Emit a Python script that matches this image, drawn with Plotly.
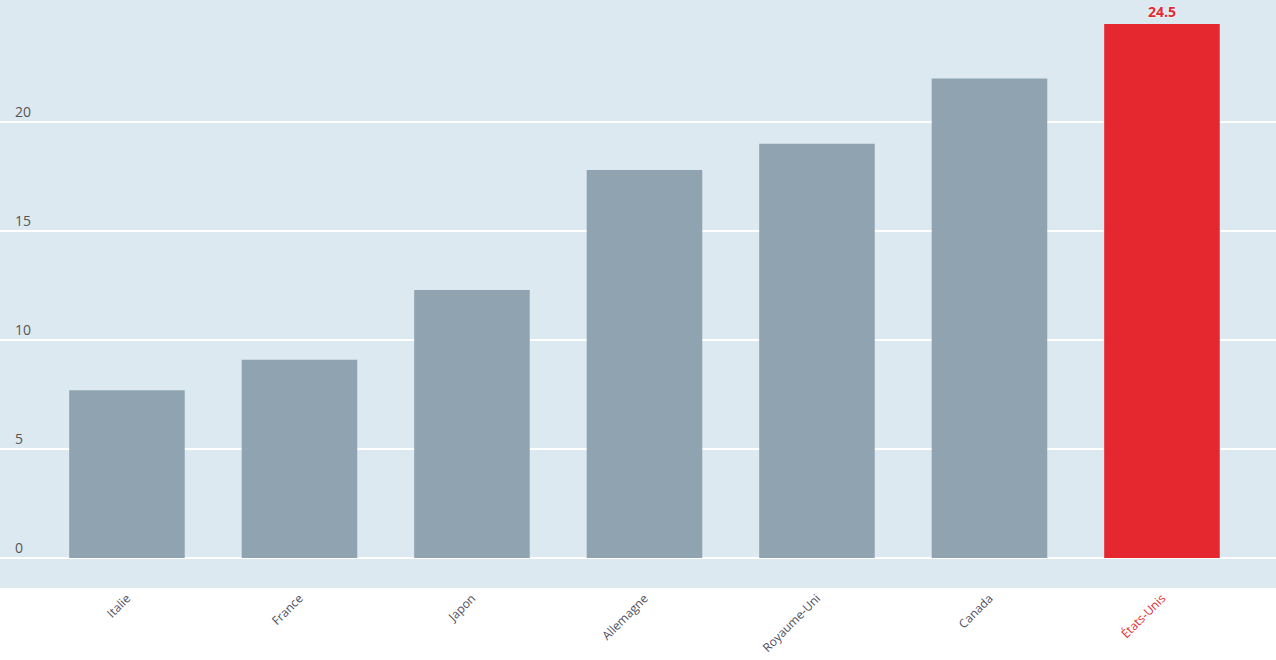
import plotly.graph_objects as go

countries = ["Italie", "France", "Japon", "Allemagne", "Royaume-Uni", "Canada", "États-Unis"]
values = [7.7, 9.1, 12.3, 17.8, 19.0, 22.0, 24.5]
y_ticks = [0, 5, 10, 15, 20]

GRAY = "#8fa4b0"
RED = "#e5282f"
colors = [RED if c == "États-Unis" else GRAY for c in countries]
labels = ["%.1f" % v if c == "États-Unis" else "" for c, v in zip(countries, values)]
ticktext = ['<span style="color:%s">%s</span>' % (RED, c) if c == "États-Unis" else c for c in countries]

fig = go.Figure(go.Bar(
    x=countries, y=values, marker=dict(color=colors, line=dict(width=0)),
    width=0.67, text=labels, textposition="outside", cliponaxis=False,
    textfont=dict(color=RED, size=14, family="Open Sans", weight="bold", shadow="0px 0px 2px white"),
))

fig.update_layout(
    width=1276, height=660,
    margin=dict(l=0, r=0, t=0, b=72, autoexpand=False),
    paper_bgcolor="white", plot_bgcolor="#dde9f1",
    showlegend=False,
    font=dict(family="Open Sans", color="#555555"),
    xaxis=dict(
        range=[-0.736, 6.661], tickangle=-45, tickmode="array",
        tickvals=countries, ticktext=ticktext, showgrid=False,
        tickfont=dict(size=12, color="#4d4d5e"), ticks="", showline=False,
    ),
    yaxis=dict(
        range=[-1.376, 25.6], tickvals=y_ticks, gridcolor="white", gridwidth=2,
        zeroline=True, zerolinecolor="white", zerolinewidth=2,
        ticklabelposition="inside top", tickfont=dict(size=14, color="#555555"),
        ticklabelstandoff=12,
    ),
)

fig.write_html(
    "out.html",
    config={"displayModeBar": False},
    post_script="document.body.style.margin='0';document.body.style.overflow='hidden';",
)
